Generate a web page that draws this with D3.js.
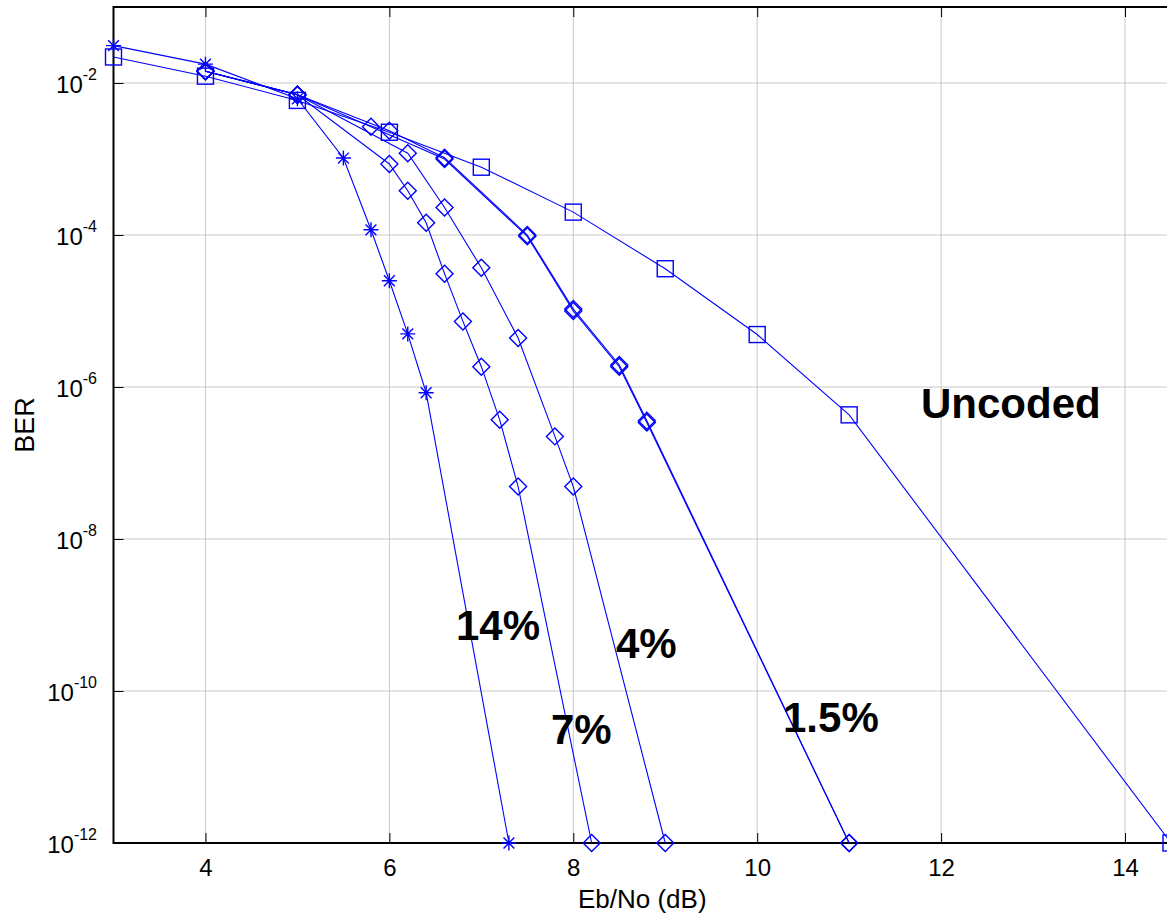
<!DOCTYPE html>
<html>
<head>
<meta charset="utf-8">
<script src="https://cdn.jsdelivr.net/npm/d3@7"></script>
<style>
  html, body { margin: 0; padding: 0; background: #ffffff; overflow: hidden; }
  svg { display: block; font-family: "Liberation Sans", Arial, sans-serif; }
</style>
</head>
<body>
<svg id="chart" width="1167" height="917"></svg>
<script>
// ---- data (Eb/No in dB, BER) ----
const snrUncoded = [3, 4, 5, 6, 7, 8, 9, 10, 11, 14.5];
const berUncoded = [2.2e-2, 1.23e-2, 5.9e-3, 2.25e-3, 7.8e-4, 2.0e-4, 3.6e-5, 4.9e-6, 4.3e-7, 1e-12];

const snr14 = [3, 4, 5, 5.5, 5.8, 6.0, 6.2, 6.4, 7.3];
const ber14 = [3.1e-2, 1.77e-2, 6.2e-3, 1.03e-3, 1.17e-4, 2.5e-5, 5.0e-6, 8.4e-7, 1e-12];

const snr7 = [4, 5, 6, 6.2, 6.4, 6.6, 6.8, 7.0, 7.2, 7.4, 8.2];
const ber7 = [1.43e-2, 7.0e-3, 8.6e-4, 3.83e-4, 1.45e-4, 3.1e-5, 7.3e-6, 1.85e-6, 3.7e-7, 4.9e-8, 1e-12];

const snr4 = [4, 5, 6.2, 6.6, 7.0, 7.4, 7.8, 8.0, 9];
const ber4 = [1.43e-2, 7.0e-3, 1.19e-3, 2.3e-4, 3.7e-5, 4.4e-6, 2.24e-7, 4.9e-8, 1e-12];

const snr15a = [4, 5, 5.8, 6.6, 7.5, 8.0, 8.5, 8.8, 11];
const ber15a = [1.43e-2, 7.0e-3, 2.66e-3, 1.0e-3, 9.6e-5, 1.0e-5, 1.85e-6, 3.4e-7, 1e-12];

const snr15b = [4, 5, 6.0, 6.6, 7.5, 8.0, 8.5, 8.8, 11];
const ber15b = [1.43e-2, 7.0e-3, 2.36e-3, 1.04e-3, 1.0e-4, 1.06e-5, 1.95e-6, 3.6e-7, 1e-12];

const xTicks = [4, 6, 8, 10, 12, 14];
const yTickExps = [-2, -4, -6, -8, -10, -12];

const curveLabels = ["14%", "7%", "4%", "1.5%", "Uncoded"];
const xLabel = "Eb/No (dB)";
const yLabel = "BER";

(function () {
  // ---- layout ----
  const svg = d3.select("#chart");
  const pL = 113.5, pR = 1171, pT = 7, pB = 843;
  const blue = "#0000ff";

  const x = d3.scaleLinear().domain([3, 14.5]).range([pL, pR]);
  const y = d3.scaleLog().domain([1e-12, 1e-1]).range([pB, pT]);

  // grid
  const grid = svg.append("g").attr("stroke", "#c8c8c8").attr("stroke-width", 1);
  xTicks.forEach(t => {
    grid.append("line").attr("x1", x(t)).attr("x2", x(t)).attr("y1", pT).attr("y2", pB);
  });
  yTickExps.forEach(e => {
    const v = y(Math.pow(10, e));
    grid.append("line").attr("x1", pL).attr("x2", pR).attr("y1", v).attr("y2", v);
  });

  // axes via d3 axis (inward ticks)
  const xAxis = d3.axisBottom(x).tickValues(xTicks).tickSizeInner(-10).tickSizeOuter(0).tickFormat(d3.format("d"));
  const gx = svg.append("g").attr("transform", `translate(0,${pB})`).call(xAxis);
  gx.select(".domain").remove();
  gx.selectAll(".tick line").attr("stroke", "#000").attr("stroke-width", 1);
  gx.selectAll(".tick text").attr("font-size", 24).attr("fill", "#000")
    .attr("font-family", "'Liberation Sans', Arial, sans-serif").attr("dy", null).attr("y", 33);

  const xTop = d3.axisTop(x).tickValues(xTicks).tickSizeInner(-10).tickSizeOuter(0).tickFormat("");
  const gxt = svg.append("g").attr("transform", `translate(0,${pT})`).call(xTop);
  gxt.select(".domain").remove();
  gxt.selectAll(".tick line").attr("stroke", "#000");

  const yAxis = d3.axisLeft(y).tickValues(yTickExps.map(e => Math.pow(10, e))).tickSizeInner(-10).tickSizeOuter(0).tickFormat("");
  const gy = svg.append("g").attr("transform", `translate(${pL},0)`).call(yAxis);
  gy.select(".domain").remove();
  gy.selectAll(".tick line").attr("stroke", "#000");

  // y tick labels 10^e
  yTickExps.forEach(e => {
    const t = svg.append("text")
      .attr("x", 97).attr("y", y(Math.pow(10, e)) + 9.5)
      .attr("text-anchor", "end").attr("font-size", 24).attr("fill", "#000");
    t.append("tspan").text("10");
    t.append("tspan").attr("font-size", 16).attr("dy", -13).text(String(e));
  });

  // frame (left, bottom, top; right side lies beyond the view)
  svg.append("path")
    .attr("d", `M${pR},${pT}H${pL}V${pB}H${pR}`)
    .attr("fill", "none").attr("stroke", "#000").attr("stroke-width", 2);

  // axis labels
  svg.append("text").attr("x", (pL + pR) / 2).attr("y", 908)
    .attr("text-anchor", "middle").attr("font-size", 26).attr("fill", "#000").text(xLabel);
  svg.append("text").attr("transform", `translate(34,${(pT + pB) / 2}) rotate(-90)`)
    .attr("text-anchor", "middle").attr("font-size", 27).attr("fill", "#000").text(yLabel);

  // series
  const series = [
    { xs: snrUncoded, ys: berUncoded, marker: "square" },
    { xs: snr14, ys: ber14, marker: "star" },
    { xs: snr7, ys: ber7, marker: "diamond" },
    { xs: snr4, ys: ber4, marker: "diamond" },
    { xs: snr15a, ys: ber15a, marker: "diamond" },
    { xs: snr15b, ys: ber15b, marker: "diamond" }
  ];

  const line = d3.line().x(d => x(d[0])).y(d => y(d[1]));
  const plot = svg.append("g");

  series.forEach(s => {
    const pts = s.xs.map((v, i) => [v, s.ys[i]]);
    plot.append("path").datum(pts).attr("d", line)
      .attr("fill", "none").attr("stroke", blue).attr("stroke-width", 1.1);
    const mg = plot.append("g").attr("fill", "none").attr("stroke", blue).attr("stroke-width", 1.4);
    pts.forEach(p => {
      const cx = x(p[0]), cy = y(p[1]);
      if (s.marker === "square") {
        mg.append("rect").attr("x", cx - 8).attr("y", cy - 8).attr("width", 16).attr("height", 16);
      } else if (s.marker === "diamond") {
        mg.append("path").attr("d", `M${cx},${cy - 8.5}L${cx + 8.5},${cy}L${cx},${cy + 8.5}L${cx - 8.5},${cy}Z`);
      } else {
        const r = 7.5, d = r * 0.72;
        mg.append("path").attr("d",
          `M${cx - r},${cy}H${cx + r}M${cx},${cy - r}V${cy + r}` +
          `M${cx - d},${cy - d}L${cx + d},${cy + d}M${cx - d},${cy + d}L${cx + d},${cy - d}`);
      }
    });
  });

  // curve annotations (left x, baseline y in pixels)
  const labelPos = [
    { lx: 456, by: 640 },
    { lx: 551, by: 744 },
    { lx: 616, by: 658 },
    { lx: 783, by: 732 },
    { lx: 921, by: 418 }
  ];
  curveLabels.forEach((txt, i) => {
    svg.append("text")
      .attr("x", labelPos[i].lx).attr("y", labelPos[i].by)
      .attr("font-size", 42).attr("font-weight", "bold").attr("fill", "#000")
      .text(txt);
  });
})();
</script>
</body>
</html>
